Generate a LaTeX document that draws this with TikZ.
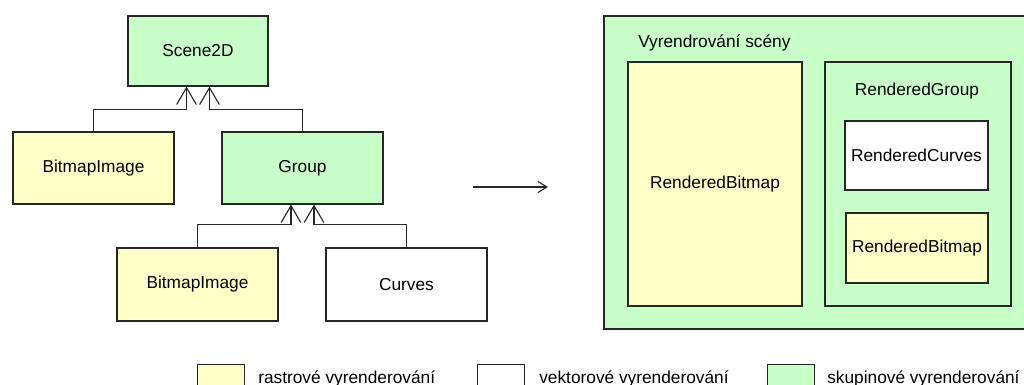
\documentclass[tikz,border=0pt]{standalone}
\usepackage{fontspec}
\setmainfont{Liberation Sans}
\usepackage{tikz}
\usetikzlibrary{arrows.meta,calc}
\usetikzlibrary{positioning}
\definecolor{rastr}{HTML}{FFFFC8}
\definecolor{skup}{HTML}{C8FFC8}

\begin{document}
\begin{tikzpicture}[x=0.025cm,y=-0.025cm,
  font=\fontsize{12.3}{14}\selectfont,
  cls/.style={rectangle,draw=black!85,line width=0.8pt,inner sep=0pt,align=center},
  gen/.style={draw=black!85,line width=0.8pt,-{Straight Barb[length=12pt,width=14pt,line width=0.8pt]}},
  legbox/.style={rectangle,draw=black!85,line width=0.8pt,minimum width=47*0.025cm,minimum height=40*0.025cm,anchor=north west},
  legtxt/.style={anchor=base west,inner sep=0pt}]
\useasboundingbox (0,0) rectangle (1024,385);
% class tree
\node at (198,51)[cls,fill=skup,minimum width=140*0.025cm,minimum height=70*0.025cm](scene){Scene2D};
\node at (93.5,168)[cls,fill=rastr,minimum width=161*0.025cm,minimum height=72*0.025cm](bmp1){BitmapImage};
\node at (302.5,168)[cls,fill=skup,minimum width=161*0.025cm,minimum height=72*0.025cm](group){Group};
\node at (197.5,284.5)[cls,fill=rastr,minimum width=161*0.025cm,minimum height=73*0.025cm](bmp2){BitmapImage};
\node at (406.5,284.5)[cls,fill=white,minimum width=161*0.025cm,minimum height=73*0.025cm](curves){Curves};
\draw[gen] (bmp1.north) |- ($(scene.south)+(-11.5,23)$) -- ($(scene.south)+(-11.5,0)$);
\draw[gen] (group.north) |- ($(scene.south)+(11.5,23)$) -- ($(scene.south)+(11.5,0)$);
\draw[gen] (bmp2.north) |- ($(group.south)+(-11.5,20)$) -- ($(group.south)+(-11.5,0)$);
\draw[gen] (curves.north) |- ($(group.south)+(11.5,20)$) -- ($(group.south)+(11.5,0)$);
% transformation
\coordinate (from) at (473,187);
\coordinate (to) at (548,187);
\draw[black!85,line width=0.8pt,-{Straight Barb[length=6.5pt,width=8pt,line width=0.8pt]}] (from) -- (to);
% rendered scene
\node at (819,172.5)[cls,fill=skup,minimum width=430*0.025cm,minimum height=313*0.025cm](frame){};
\node at (638,47.5)[anchor=base west,inner sep=0pt](title){Vyrendrování scény};
\node at (715,184)[cls,fill=rastr,minimum width=174*0.025cm,minimum height=244*0.025cm](rbmp){RenderedBitmap};
\node at (918,184)[cls,fill=skup,minimum width=186*0.025cm,minimum height=244*0.025cm](rgroup){};
\node at (917,96)[anchor=base,inner sep=0pt](rglabel){RenderedGroup};
\node at (916.5,155.5)[cls,fill=white,minimum width=143*0.025cm,minimum height=69*0.025cm](rcurves){RenderedCurves};
\node at (917,248)[cls,fill=rastr,minimum width=142*0.025cm,minimum height=70*0.025cm](rbmp2){RenderedBitmap};
% legend
\node at (197,364)[legbox,fill=rastr](leg1){};
\node at (258,383.5)[legtxt](leg1t){rastrové vyrenderování};
\node at (477,364)[legbox,fill=white](leg2){};
\node at (539,383.5)[legtxt](leg2t){vektorové vyrenderování};
\node at (767,364)[legbox,fill=skup](leg3){};
\node at (827,383.5)[legtxt](leg3t){skupinové vyrenderování};
\end{tikzpicture}
\end{document}
